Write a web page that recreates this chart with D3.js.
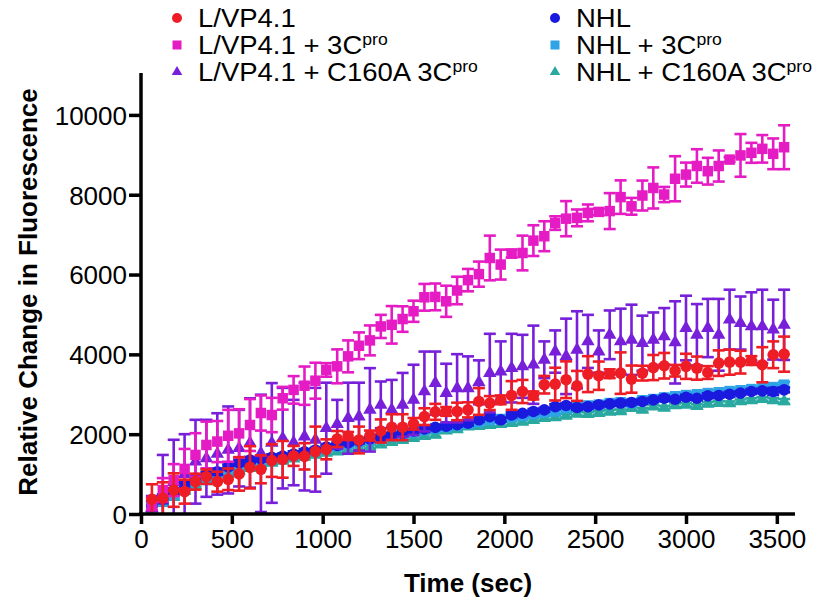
<!DOCTYPE html>
<html>
<head>
<meta charset="utf-8">
<script src="https://cdn.jsdelivr.net/npm/d3@7"></script>
<style>
  body { margin: 0; background: #fff; }
  svg { font-family: "Liberation Sans", Arial, sans-serif; }
</style>
</head>
<body>
<div id="chart"></div>
<script>
// time points (sec)
var times = [60,120,180,240,300,360,420,480,540,600,660,720,780,840,900,960,1020,1080,1140,1200,
  1260,1320,1380,1440,1500,1560,1620,1680,1740,1800,1860,1920,1980,2040,2100,2160,2220,2280,2340,2400,
  2460,2520,2580,2640,2700,2760,2820,2880,2940,3000,3060,3120,3180,3240,3300,3360,3420,3480,3540];

var lvp = [370,395,600,560,810,935,810,870,1005,1170,1120,1340,1370,1455,1445,1565,1620,1880,1955,1855,
  1965,2080,2175,2175,2260,2440,2560,2570,2570,2610,2820,2780,2860,2970,3070,2970,3240,3255,3365,3210,
  3505,3465,3515,3530,3380,3530,3670,3715,3590,3700,3655,3545,3780,3805,3805,3845,3740,3990,4005];
var lvpErr = [375,400,420,300,200,180,250,270,420,530,350,410,460,250,330,625,250,200,100,335,
  125,290,325,325,145,210,200,110,220,190,335,175,110,360,290,100,220,410,460,375,
  450,355,110,520,340,185,315,320,145,315,290,160,320,315,285,110,440,335,440];

var lvp3c = [250,600,850,1130,1480,1730,1815,1960,2020,2230,2530,2480,2900,3110,3215,3340,3610,3700,3950,4215,
  4350,4700,4740,4885,5080,5430,5440,5330,5600,5860,6010,6415,6250,6525,6540,6850,6960,7290,7400,7420,
  7545,7570,7590,7940,7710,7980,8170,8005,8400,8505,8720,8590,8720,8880,8985,9050,9150,9025,9190];
var lvp3cErr = [150,300,400,500,545,585,515,650,605,650,440,430,285,345,480,450,170,425,400,335,
  375,290,470,320,265,335,335,390,345,280,315,560,375,100,435,385,375,170,440,210,
  210,80,450,420,210,375,515,190,565,300,420,335,390,60,535,250,345,385,550];

var lvpC160 = [150,450,800,1000,1310,1395,1505,1605,1650,1780,1520,1780,1900,1790,1940,1860,2150,2250,2400,2440,
  2610,2735,2610,2735,2860,3070,3280,3030,3150,3150,3300,3530,3570,3655,3700,3740,3865,4070,3950,4115,
  4325,4070,4490,4325,4365,4280,4365,4450,4300,4660,4490,4660,4490,4870,4785,4700,4700,4620,4740];
var lvpC160Err = [300,1030,1060,1000,1050,965,1020,1090,960,1120,1470,1500,1260,1070,1350,1300,1140,610,890,850,
  1045,585,750,800,880,1000,790,735,855,800,550,985,755,860,790,980,460,530,945,965,
  665,530,610,820,880,690,685,710,1030,810,770,730,900,750,665,855,920,750,880];

var nhl = [200,380,560,720,900,980,1060,1180,1280,1350,1380,1420,1450,1500,1560,1600,1680,1720,1780,1830,
  1880,1920,1980,2020,2080,2130,2170,2200,2240,2275,2360,2440,2360,2485,2525,2570,2610,2690,2720,2670,
  2690,2735,2760,2780,2795,2820,2860,2900,2875,2925,2900,2960,2970,3000,3030,3070,3085,3070,3110];
var nhlErr = [120,110,90,80,90,70,80,60,70,80,60,70,60,70,60,50,60,70,50,60,
  50,60,50,60,50,70,50,60,50,60,50,60,50,60,50,60,50,60,50,60,
  50,60,50,60,50,60,50,60,50,60,50,60,50,60,50,60,50,90,60];

var nhl3c = [150,320,480,650,820,920,1000,1100,1200,1280,1330,1380,1420,1470,1530,1580,1640,1700,1750,1800,
  1850,1900,1950,2000,2050,2100,2150,2180,2220,2260,2300,2350,2380,2420,2460,2500,2540,2570,2650,2700,
  2720,2740,2780,2800,2780,2850,2880,2920,2950,2980,3000,3030,3050,3080,3100,3130,3150,3180,3240];
var nhl3cErr = [100,90,80,70,60,60,50,60,50,60,50,60,50,60,50,60,50,60,50,60,
  50,60,50,60,50,60,50,60,50,60,50,60,50,60,50,60,50,60,50,60,
  50,60,50,60,50,60,50,60,50,60,50,60,50,60,50,60,50,60,70];

var nhlC160 = [100,280,420,580,720,820,900,1000,1080,1150,1220,1280,1330,1390,1430,1480,1530,1560,1610,1650,
  1690,1740,1800,1850,1900,1950,1980,2090,2120,2190,2200,2230,2250,2275,2310,2350,2400,2420,2460,2510,
  2500,2530,2560,2570,2650,2610,2690,2660,2720,2735,2700,2760,2780,2770,2820,2850,2880,2850,2820];
var nhlC160Err = [80,70,60,60,50,50,50,50,50,50,50,50,50,50,50,50,50,50,50,50,
  50,50,50,50,50,50,50,50,50,50,50,50,50,50,50,50,50,50,50,50,
  50,50,50,50,50,50,50,50,50,50,50,50,50,50,50,50,50,50,60];

var xTicks = [0,500,1000,1500,2000,2500,3000,3500];
var yTicks = [0,2000,4000,6000,8000,10000];

// draw order, bottom to top
var series = [
  {name: "NHL + C160A 3C", sup: "pro", vals: nhlC160, err: nhlC160Err, color: "#2aa9a1", shape: "triangle", col: 1, row: 2},
  {name: "NHL + 3C", sup: "pro", vals: nhl3c, err: nhl3cErr, color: "#2ea3e6", shape: "square", col: 1, row: 1},
  {name: "NHL", sup: "", vals: nhl, err: nhlErr, color: "#1a1adf", shape: "circle", col: 1, row: 0},
  {name: "L/VP4.1 + C160A 3C", sup: "pro", vals: lvpC160, err: lvpC160Err, color: "#781fd9", shape: "triangle", col: 0, row: 2},
  {name: "L/VP4.1 + 3C", sup: "pro", vals: lvp3c, err: lvp3cErr, color: "#e51cc4", shape: "square", col: 0, row: 1},
  {name: "L/VP4.1", sup: "", vals: lvp, err: lvpErr, color: "#ee1c25", shape: "circle", col: 0, row: 0}
];

var width = 820, height = 603;

var svg = d3.select("#chart").append("svg")
  .attr("width", width)
  .attr("height", height);

var x = d3.scaleLinear().domain([0, 3600]).range([141, 795]);
var y = d3.scaleLinear().domain([0, 11000]).range([514, 75]);

function marker(sel, shape, big) {
  if (shape == "circle") {
    sel.append("circle").attr("r", big ? 5.8 : 5);
  } else if (shape == "square") {
    var s = big ? 10.5 : 9;
    sel.append("rect").attr("x", -s/2).attr("y", -s/2).attr("width", s).attr("height", s);
  } else {
    sel.append("path").attr("d", d3.symbol().type(d3.symbolTriangle).size(big ? 78 : 48)());
  }
}

/* data */
var plot = svg.append("g");
series.forEach(function(s) {
  var pts = times.map(function(t, i) { return {t: t, v: s.vals[i], e: s.err[i]}; });
  var g = plot.append("g").attr("stroke", s.color).attr("fill", s.color);

  var bars = g.selectAll(".bar").data(pts).enter().append("g").attr("stroke-width", 2.6);
  bars.append("line")
    .attr("x1", d => x(d.t)).attr("x2", d => x(d.t))
    .attr("y1", d => y(Math.max(0, d.v - d.e))).attr("y2", d => y(d.v + d.e));
  bars.append("line")
    .attr("x1", d => x(d.t) - 6).attr("x2", d => x(d.t) + 6)
    .attr("y1", d => y(d.v + d.e)).attr("y2", d => y(d.v + d.e));
  bars.filter(d => d.v - d.e > 0).append("line")
    .attr("x1", d => x(d.t) - 6).attr("x2", d => x(d.t) + 6)
    .attr("y1", d => y(d.v - d.e)).attr("y2", d => y(d.v - d.e));

  g.selectAll(".pt").data(pts).enter().append("g")
    .attr("stroke", "none")
    .attr("transform", d => "translate(" + x(d.t) + "," + y(d.v) + ")")
    .each(function() { marker(d3.select(this), s.shape, true); });
});

/* axes */
var yAxis = svg.append("g")
  .attr("transform", "translate(141,0)")
  .call(d3.axisLeft(y).tickValues(yTicks).tickFormat(d3.format("d"))
    .tickSize(12).tickSizeOuter(0).tickPadding(2));
var xAxis = svg.append("g")
  .attr("transform", "translate(0,514)")
  .call(d3.axisBottom(x).tickValues(xTicks).tickFormat(d3.format("d"))
    .tickSize(10).tickSizeOuter(0).tickPadding(6));

[xAxis, yAxis].forEach(function(a) {
  a.attr("font-family", null);
  a.selectAll("path, line").attr("stroke", "#000").attr("stroke-width", 3.5);
  a.selectAll("text").attr("fill", "#000").style("font-size", "26px");
});
yAxis.select(".domain").attr("d", "M0,73V516");
xAxis.select(".domain").attr("d", "M139,0H795");
yAxis.selectAll("text").attr("dy", "0.36em");

svg.append("text")
  .attr("x", 468).attr("y", 592)
  .attr("text-anchor", "middle")
  .style("font-size", "26px").style("font-weight", "bold")
  .text("Time (sec)");

svg.append("text")
  .attr("transform", "translate(37,292) rotate(-90)")
  .attr("text-anchor", "middle")
  .style("font-size", "26px").style("font-weight", "bold")
  .text("Relative Change in Fluorescence");

/* legend */
var legend = svg.append("g");
series.forEach(function(s) {
  var mx = s.col == 0 ? 177 : 555;
  var ly = 18 + s.row * 27;
  var lg = legend.append("g").attr("transform", "translate(" + mx + "," + ly + ")")
    .attr("fill", s.color);
  marker(lg, s.shape, false);
  var t = legend.append("text")
    .attr("transform", "translate(" + (mx + 21) + "," + (ly + 9) + ") scale(1.1,1)")
    .style("font-size", "25px")
    .attr("fill", "#000")
    .text(s.name);
  if (s.sup) {
    t.append("tspan").attr("dy", -9).style("font-size", "16px").text(s.sup);
  }
});
</script>
</body>
</html>
